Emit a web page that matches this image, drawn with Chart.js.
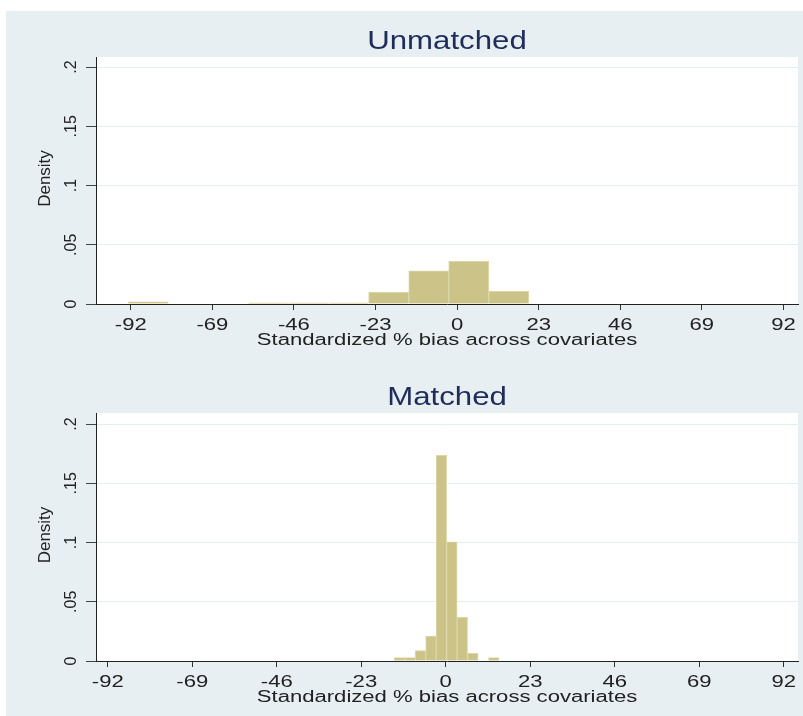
<!DOCTYPE html>
<html>
<head>
<meta charset="utf-8">
<script src="https://cdn.jsdelivr.net/npm/chart.js@4.4.0/dist/chart.umd.min.js"></script>
<style>
  html, body { margin: 0; padding: 0; background: #fff; }
  #wrap { position: relative; width: 803px; height: 716px; overflow: hidden; }
  #region { position: absolute; left: 6px; top: 11px; right: 0; bottom: 0; background: #e8eff2; }
  canvas { position: absolute; left: 0; }
</style>
</head>
<body>
<div id="wrap">
  <div id="region"></div>
  <canvas id="topChart" width="803" height="357" style="top:0"></canvas>
  <canvas id="bottomChart" width="803" height="359" style="top:357px"></canvas>
</div>
<script>
// axis ticks
const xTicks = [-92, -69, -46, -23, 0, 23, 46, 69, 92];
const yTicks = [0, 0.05, 0.1, 0.15, 0.2];
const yTickLabels = ["0", ".05", ".1", ".15", ".2"];
const xTitle = "Standardized % bias across covariates";
const yTitle = "Density";

// Unmatched histogram (bin centres, density)
const unmatchedBins = [-87.05, -75.77, -64.47, -53.19, -41.9, -30.6, -19.3, -8.0, 3.27, 14.55];
const unmatchedDensity = [0.0018, 0, 0, 0.0009, 0.0009, 0.0009, 0.0099, 0.0280, 0.0360, 0.0107];

// Matched histogram (bin centres, density)
const matchedBins = [-12.575, -9.725, -6.875, -4.025, -1.175, 1.675, 4.525, 7.375, 10.225, 13.075];
const matchedDensity = [0.0029, 0.0029, 0.0087, 0.0211, 0.1735, 0.1006, 0.0369, 0.0065, 0, 0.0029];

const FONT = "'Liberation Sans', Arial, sans-serif";

function wideText(ctx, text, x, y, sx) {
    ctx.save();
    ctx.translate(x, y);
    ctx.scale(sx, 1);
    ctx.textAlign = "center";
    ctx.fillText(text, 0, 0);
    ctx.restore();
}

function upText(ctx, text, x, y) {
    ctx.save();
    ctx.translate(x, y);
    ctx.rotate(-Math.PI / 2);
    ctx.textAlign = "center";
    ctx.fillText(text, 0, 0);
    ctx.restore();
}

const stataText = {
    id: "stataText",
    beforeDraw(chart) {
        const { ctx, chartArea: a } = chart;
        ctx.save();
        ctx.fillStyle = "#ffffff";
        ctx.fillRect(a.left, a.top, a.right - a.left, a.bottom - a.top);
        ctx.restore();
    },
    afterDraw(chart, args, opts) {
        const { ctx, chartArea: a, scales } = chart;
        const cx = (a.left + a.right) / 2;
        ctx.save();
        ctx.textBaseline = "alphabetic";

        // panel title
        ctx.fillStyle = "#1e2d5a";
        ctx.font = "26px " + FONT;
        wideText(ctx, opts.title, cx, a.top - 8, 1.2);

        // x tick labels + title
        ctx.fillStyle = "#222";
        ctx.font = "16px " + FONT;
        xTicks.forEach(v => {
            wideText(ctx, String(v), scales.x.getPixelForValue(v), a.bottom + 25.5, 1.38);
        });
        wideText(ctx, xTitle, cx, a.bottom + 41, 1.38);

        // y tick labels, rotated
        yTicks.forEach((v, i) => {
            upText(ctx, yTickLabels[i], a.left - 20.5, scales.y.getPixelForValue(v));
        });
        ctx.font = "17px " + FONT;
        upText(ctx, yTitle, a.left - 46.5, (a.top + a.bottom) / 2 - 2);
        ctx.restore();
    },
};

function makeChart(id, title, bins, density, xMin, xMax, yMax, padTop, xAxisHeight) {
    return new Chart(document.getElementById(id), {
        type: "bar",
        data: {
            datasets: [{
                data: bins.map((b, i) => ({ x: b, y: density[i] })),
                backgroundColor: "#ccc389",
                borderColor: "#ddd7a6",
                borderWidth: 1,
                barPercentage: 1,
                categoryPercentage: 1,
            }],
        },
        plugins: [stataText],
        options: {
            responsive: false,
            animation: false,
            devicePixelRatio: 1,
            layout: { padding: { top: padTop, right: 5, left: 0, bottom: 0 } },
            plugins: {
                legend: { display: false },
                tooltip: { enabled: false },
                stataText: { title: title },
            },
            scales: {
                x: {
                    type: "linear",
                    offset: false,
                    min: xMin,
                    max: xMax,
                    afterBuildTicks: (s) => { s.ticks = xTicks.map(v => ({ value: v })); },
                    afterFit: (s) => { s.height = xAxisHeight; },
                    ticks: { display: false },
                    grid: { offset: false, drawOnChartArea: false, drawTicks: true, tickLength: 6, tickColor: "#333" },
                    border: { display: true, color: "#222", width: 1 },
                },
                y: {
                    min: 0,
                    max: yMax,
                    afterBuildTicks: (s) => { s.ticks = yTicks.map(v => ({ value: v })); },
                    afterFit: (s) => { s.width = 96; },
                    ticks: { display: false },
                    grid: { color: "#e4eef1", lineWidth: 1, drawTicks: true, tickLength: 10, tickColor: "#444" },
                    border: { display: true, color: "#222", width: 1 },
                },
            },
        },
    });
}

makeChart("topChart", "Unmatched", unmatchedBins, unmatchedDensity, -101.8, 96.1, 0.2085, 57, 53);
makeChart("bottomChart", "Matched", matchedBins, matchedDensity, -95.2, 95.9, 0.2093, 56, 55);
</script>
</body>
</html>
